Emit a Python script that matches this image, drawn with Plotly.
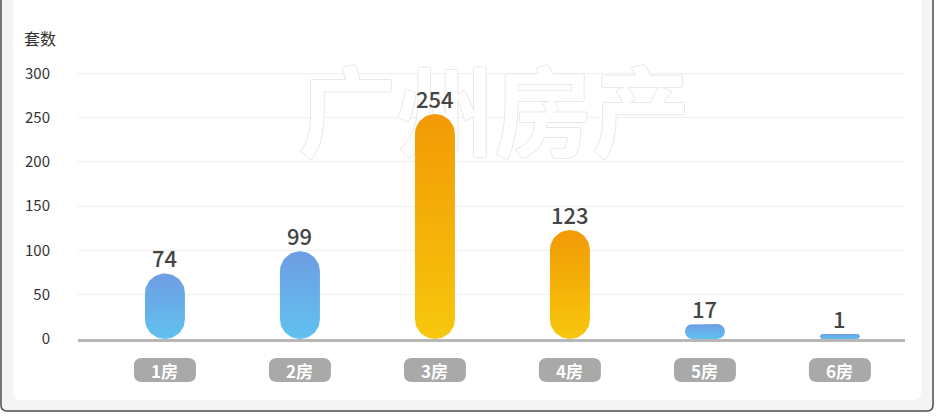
import numpy as np
import plotly.graph_objects as go

# ---------------- data ----------------
categories = ["1房", "2房", "3房", "4房", "5房", "6房"]
counts = [74, 99, 254, 123, 17, 1]
bar_palette = ["blue", "blue", "orange", "orange", "blue", "blue"]
y_tick_values = [0, 50, 100, 150, 200, 250, 300, 350]
y_tick_labels = ["0", "50", "100", "150", "200", "250", "300", ""]
y_axis_title = "套数"
watermark_text = "广州房产"

# ---------------- style ----------------
GRADIENTS = {"blue": ("#60c1ef", "#6f9de4"), "orange": ("#f7c70d", "#f29a05")}
FONT = "Noto Sans CJK SC"
W, H = 942, 418
L, R, T, B = 78, 37, 29, 79
PW, PH = W - L - R, H - T - B
X_RANGE = [-0.644, 5.482]
Y_RANGE = [0, 350]
PX_X = PW / (X_RANGE[1] - X_RANGE[0])
PX_Y = PH / (Y_RANGE[1] - Y_RANGE[0])
BAR_W_PX = 40
MIN_BAR_PX = 5
LABEL_W_PX, LABEL_H_PX, LABEL_TOP_PX, LABEL_R_PX = 62, 24, 19, 8
WATERMARK_POS = (2.44, 242)

x_pos = list(range(len(categories)))


def capsule(xc, value):
    h_px = max(value * PX_Y, MIN_BAR_PX)
    r_px = min(BAR_W_PX / 2, h_px / 2)
    hw = BAR_W_PX / 2 / PX_X
    rx, ry = r_px / PX_X, r_px / PX_Y
    top = h_px / PX_Y
    centers = [(xc + hw - rx, ry, -90, 0), (xc + hw - rx, top - ry, 0, 90),
               (xc - hw + rx, top - ry, 90, 180), (xc - hw + rx, ry, 180, 270)]
    xs, ys = [], []
    for cx, cy, a0, a1 in centers:
        th = np.radians(np.linspace(a0, a1, 16))
        xs += list(cx + rx * np.cos(th))
        ys += list(cy + ry * np.sin(th))
    xs.append(xs[0]); ys.append(ys[0])
    return xs, ys, top


def px_to_paper(px, py):
    return (px - L) / PW, (H - B - py) / PH


fig = go.Figure()

# watermark (beneath bars)
fig.add_trace(go.Scatter(
    x=[WATERMARK_POS[0]], y=[WATERMARK_POS[1]], mode="text", text=[watermark_text],
    textfont=dict(family=FONT, size=98, color="white", weight="bold",
                  shadow="1px 0 0 #e8e8e8, -1px 0 0 #e8e8e8, 0 1px 0 #e8e8e8, 0 -1px 0 #e8e8e8"),
    hoverinfo="skip", showlegend=False, cliponaxis=False))

annotations = []
for xc, v, pal, cat in zip(x_pos, counts, bar_palette, categories):
    xs, ys, top = capsule(xc, v)
    bottom_c, top_c = GRADIENTS[pal]
    fig.add_trace(go.Scatter(
        x=xs, y=ys, mode="lines", line=dict(width=0), fill="toself",
        fillgradient=dict(type="vertical", colorscale=[[0, bottom_c], [1, top_c]]),
        hoverinfo="skip", showlegend=False))
    annotations.append(dict(x=xc, y=top, xref="x", yref="y", text=str(v), showarrow=False,
                            yanchor="bottom", yshift=-2,
                            font=dict(family=FONT, size=22, color="#444444", weight=500)))
    annotations.append(dict(x=xc, y=-(LABEL_TOP_PX + LABEL_H_PX / 2) / PH, xref="x", yref="paper",
                            text=cat, showarrow=False, yanchor="middle",
                            font=dict(family=FONT, size=17, color="white", weight="bold")))

annotations.append(dict(x=px_to_paper(40, 38)[0], y=px_to_paper(40, 38)[1], xref="paper", yref="paper",
                        text=y_axis_title, showarrow=False, xanchor="center", yanchor="middle",
                        font=dict(family=FONT, size=16, color="#333333")))

shapes = []
# card frame
x0, y0 = px_to_paper(2, -10); x1, y1 = px_to_paper(932, 410)
shapes.append(dict(type="rect", xref="paper", yref="paper", x0=x0, y0=y0, x1=x1, y1=y1,
                   fillcolor="#f4f4f4", line=dict(width=0), layer="below"))


def rr_path(ax, ay, bx, by, r):
    # rounded bottom corners only (top goes off image), in paper coords from pixels
    def p(px, py):
        a, b = px_to_paper(px, py)
        return f"{a:.5f},{b:.5f}"
    return (f"M{p(ax, ay)} L{p(ax, by - r)} Q{p(ax, by)} {p(ax + r, by)} "
            f"L{p(bx - r, by)} Q{p(bx, by)} {p(bx, by - r)} L{p(bx, ay)}")


shapes.append(dict(type="path", xref="paper", yref="paper", path=rr_path(13, -10, 921, 400, 8) + " Z",
                   fillcolor="white", line=dict(width=0), layer="below"))
shapes.append(dict(type="path", xref="paper", yref="paper", path=rr_path(1, -10, 933, 411, 6),
                   line=dict(color="#4a4a4a", width=1.5), layer="above"))

# category label boxes
hwx = LABEL_W_PX / 2 / PX_X
rx = LABEL_R_PX / PX_X
ytop = -LABEL_TOP_PX / PH
ybot = -(LABEL_TOP_PX + LABEL_H_PX) / PH
ry = LABEL_R_PX / PH
for xc in x_pos:
    a, b = xc - hwx, xc + hwx
    path = (f"M{a + rx},{ytop} L{b - rx},{ytop} Q{b},{ytop} {b},{ytop - ry} "
            f"L{b},{ybot + ry} Q{b},{ybot} {b - rx},{ybot} L{a + rx},{ybot} "
            f"Q{a},{ybot} {a},{ybot + ry} L{a},{ytop - ry} Q{a},{ytop} {a + rx},{ytop} Z")
    shapes.append(dict(type="path", xref="x", yref="paper", path=path,
                       fillcolor="#a9a9a9", line=dict(width=0), layer="above"))

fig.update_layout(
    width=W, height=H, margin=dict(l=L, r=R, t=T, b=B),
    paper_bgcolor="white", plot_bgcolor="rgba(0,0,0,0)",
    showlegend=False, annotations=annotations, shapes=shapes,
    xaxis=dict(range=X_RANGE, showgrid=False, zeroline=False, showticklabels=False,
               showline=True, linecolor="#b7b7b7", linewidth=3, fixedrange=True),
    yaxis=dict(range=Y_RANGE, tickvals=y_tick_values, ticktext=y_tick_labels,
               showgrid=True, gridcolor="#efefef", gridwidth=1, zeroline=False,
               ticks="", ticklabelstandoff=27,
               tickfont=dict(family=FONT, size=15, color="#333333"), fixedrange=True),
)

fig.write_html("out.html", config={"displayModeBar": False},
               post_script="document.body.style.margin='0';document.body.style.overflow='hidden';")
